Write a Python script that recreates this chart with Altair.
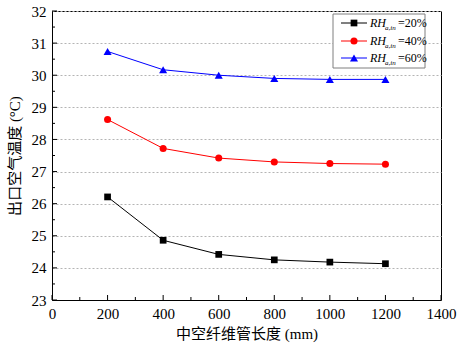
import altair as alt
import pandas as pd

# ---- data ----
lengths = [200, 400, 600, 800, 1000, 1200]
rh20 = [26.21, 24.86, 24.42, 24.25, 24.18, 24.13]
rh40 = [28.62, 27.72, 27.42, 27.30, 27.25, 27.23]
rh60 = [30.74, 30.17, 30.00, 29.90, 29.87, 29.87]

series_names = ["RH20", "RH40", "RH60"]
series_colors = ["#000000", "#ff0000", "#0000ff"]
series_shapes = ["square", "circle", "triangle-up"]
series_sizes = [45, 50, 65]
legend_values = ["=20%", "=40%", "=60%"]

x_major = [0, 200, 400, 600, 800, 1000, 1200, 1400]
x_minor = [100, 300, 500, 700, 900, 1100, 1300]
y_major = [23, 24, 25, 26, 27, 28, 29, 30, 31, 32]
y_minor = [23.5, 24.5, 25.5, 26.5, 27.5, 28.5, 29.5, 30.5, 31.5]

x_title = "中空纤维管长度 (mm)"
y_title = "出口空气温度 (°C)"

FONT = "Liberation Serif, Times New Roman, Noto Sans CJK SC"
W, H = 389, 289

rows = []
for name, vals in zip(series_names, [rh20, rh40, rh60]):
    for L, v in zip(lengths, vals):
        rows.append({"length": L, "temp": v, "series": name})
df = pd.DataFrame(rows)

xscale = alt.Scale(domain=[0, 1400], nice=False, zero=False)
yscale = alt.Scale(domain=[23, 32], nice=False, zero=False)
cscale = alt.Scale(domain=series_names, range=series_colors)

xaxis = alt.Axis(values=x_major, tickSize=0, labelPadding=6, labelFontSize=15,
                 titleFontSize=15, titlePadding=5, grid=False, domainColor="black",
                 labelColor="black", titleColor="black", labelFont=FONT, titleFont=FONT,
                 titleFontWeight="normal", format="d", labelFlush=False, labelOverlap=False)
yaxis = alt.Axis(values=y_major, tickSize=0, labelPadding=6, labelFontSize=15,
                 titleFontSize=15, titlePadding=9, grid=True, gridDash=[2, 2],
                 gridColor="#b4b4b4", domainColor="black", labelColor="black",
                 titleColor="black", labelFont=FONT, titleFont=FONT,
                 titleFontWeight="normal", format="d", labelFlush=False, labelOverlap=False)


def X(field):
    return alt.X(field, scale=xscale, axis=xaxis, title=x_title)


def Y(field):
    return alt.Y(field, scale=yscale, axis=yaxis, title=y_title)


lines = alt.Chart(df).mark_line(strokeWidth=1).encode(
    x=X("length:Q"),
    y=Y("temp:Q"),
    color=alt.Color("series:N", scale=cscale, legend=None),
    detail="series:N",
)

layers = [lines]
for name, shp, sz, col in zip(series_names, series_shapes, series_sizes, series_colors):
    pts = alt.Chart(df[df["series"] == name]).mark_point(
        filled=True, opacity=1, shape=shp, size=sz, color=col
    ).encode(x=X("length:Q"), y=Y("temp:Q"))
    layers.append(pts)

# inward ticks
xmaj = alt.Chart(pd.DataFrame({"v": x_major})).mark_rule(color="black", strokeWidth=1).encode(
    x=X("v:Q"), y=alt.value(H), y2=alt.value(H - 5))
xmin = alt.Chart(pd.DataFrame({"v": x_minor})).mark_rule(color="black", strokeWidth=1).encode(
    x=X("v:Q"), y=alt.value(H), y2=alt.value(H - 3))
ymaj = alt.Chart(pd.DataFrame({"v": y_major})).mark_rule(color="black", strokeWidth=1).encode(
    y=Y("v:Q"), x=alt.value(0), x2=alt.value(5))
ymin = alt.Chart(pd.DataFrame({"v": y_minor})).mark_rule(color="black", strokeWidth=1).encode(
    y=Y("v:Q"), x=alt.value(0), x2=alt.value(3))
layers += [xmaj, xmin, ymaj, ymin]

# custom legend with subscripts
one = pd.DataFrame({"k": [0]})
box = alt.Chart(one).mark_rect(fill="white", stroke="#7f7f7f", strokeWidth=1).encode(
    x=alt.value(281), x2=alt.value(373), y=alt.value(3), y2=alt.value(57))
layers.append(box)
row_y = [12, 30, 47]
for ry, col, shp, sz, lab in zip(row_y, series_colors, series_shapes, series_sizes, legend_values):
    layers.append(alt.Chart(one).mark_rule(color=col, strokeWidth=1).encode(
        x=alt.value(289), x2=alt.value(315), y=alt.value(ry)))
    layers.append(alt.Chart(one).mark_point(filled=True, opacity=1, shape=shp, size=sz, color=col).encode(
        x=alt.value(302), y=alt.value(ry)))
    layers.append(alt.Chart(one).mark_text(text="RH", font=FONT, fontStyle="italic", fontSize=12,
                                           align="left", baseline="middle", color="black").encode(
        x=alt.value(318), y=alt.value(ry)))
    layers.append(alt.Chart(one).mark_text(text="a,in", font=FONT, fontStyle="italic", fontSize=7,
                                           align="left", baseline="middle", color="black").encode(
        x=alt.value(333), y=alt.value(ry + 5)))
    layers.append(alt.Chart(one).mark_text(text=lab, font=FONT, fontSize=12,
                                           align="left", baseline="middle", color="black").encode(
        x=alt.value(346), y=alt.value(ry)))

chart = alt.layer(*layers).properties(
    width=W, height=H,
    autosize=alt.AutoSizeParams(type="none"),
    padding={"left": 52, "top": 11, "right": 17, "bottom": 44},
    background="white",
).configure_view(stroke="black", strokeWidth=1)

chart.save("out.html", embed_options={"renderer": "svg", "actions": False})
